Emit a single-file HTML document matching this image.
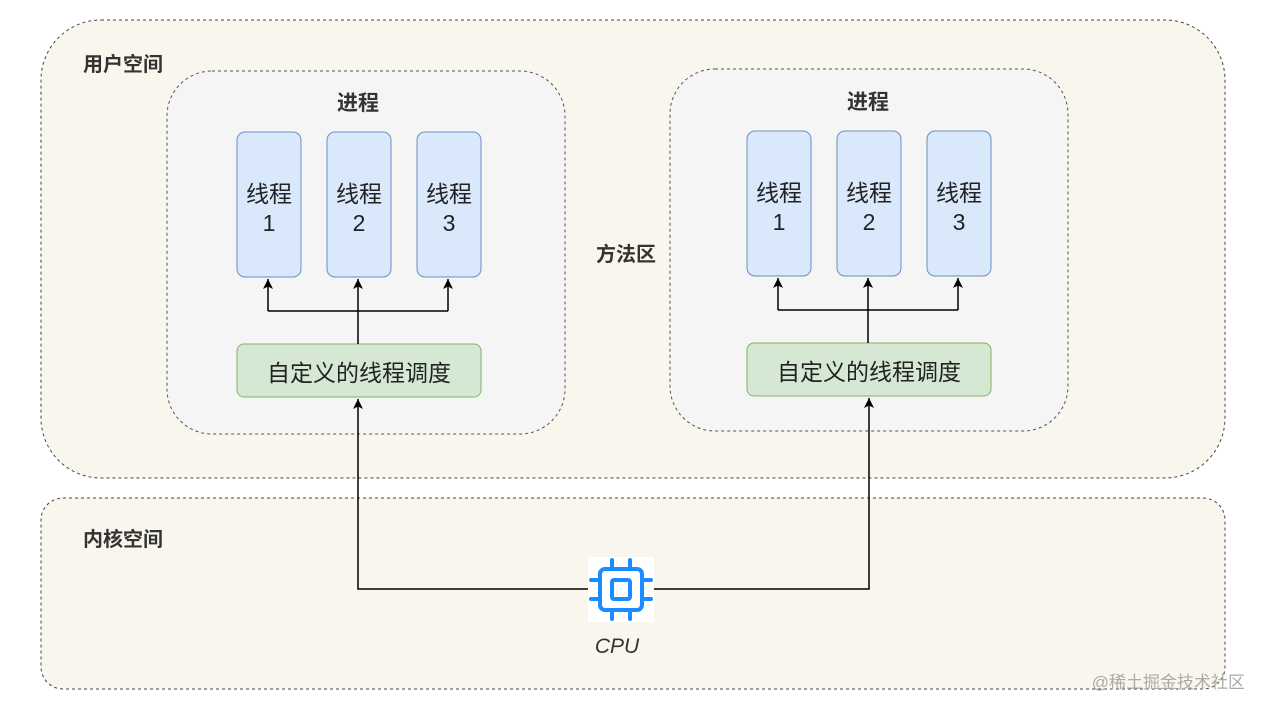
<!DOCTYPE html>
<html><head><meta charset="utf-8"><style>
html,body{margin:0;padding:0;background:#fff;}
svg text{font-family:"Liberation Sans","Noto Sans CJK SC",sans-serif;}
</style></head><body>
<svg width="1265" height="712" viewBox="0 0 1265 712" xmlns="http://www.w3.org/2000/svg">
<defs><marker id="a" markerWidth="12" markerHeight="12" refX="10" refY="5" orient="auto" markerUnits="userSpaceOnUse"><path d="M0,0 L10,5 L0,10 L2.5,5 Z" fill="#000"/></marker></defs>
<rect x="41" y="20" width="1184" height="458" rx="60" fill="#f9f7ed" stroke="#444" stroke-dasharray="3,3"/>
<rect x="41" y="498" width="1184" height="191" rx="22" fill="#f9f7ed" stroke="#444" stroke-dasharray="3,3"/>
<text x="83" y="71" font-size="20" font-weight="bold" fill="#333">用户空间</text>
<text x="83" y="546" font-size="20" font-weight="bold" fill="#333">内核空间</text>
<text x="596" y="261" font-size="20" font-weight="bold" fill="#333">方法区</text>
<rect x="167" y="71" width="398" height="363" rx="45" fill="#f5f5f5" stroke="#555" stroke-dasharray="3,3"/>
<rect x="670" y="69" width="398" height="362" rx="45" fill="#f5f5f5" stroke="#555" stroke-dasharray="3,3"/>
<g id="p">
<text x="358" y="110" font-size="21" font-weight="bold" fill="#333" text-anchor="middle">进程</text>
<rect x="237" y="132" width="64" height="145" rx="8" fill="#dae8fc" stroke="#6c8ebf"/>
<rect x="327" y="132" width="64" height="145" rx="8" fill="#dae8fc" stroke="#6c8ebf"/>
<rect x="417" y="132" width="64" height="145" rx="8" fill="#dae8fc" stroke="#6c8ebf"/>
<g font-size="23" fill="#222" text-anchor="middle">
<text x="269" y="202">线程</text><text x="269" y="231">1</text>
<text x="359" y="202">线程</text><text x="359" y="231">2</text>
<text x="449" y="202">线程</text><text x="449" y="231">3</text>
</g>
<rect x="237" y="344" width="244" height="53" rx="7" fill="#d5e8d4" stroke="#82b366"/>
<text x="359" y="381" font-size="23" fill="#222" text-anchor="middle">自定义的线程调度</text>
<path d="M268,311 H448" stroke="#000" stroke-width="1.5" fill="none"/>
<path d="M358,344 V279" stroke="#000" stroke-width="1.5" marker-end="url(#a)"/>
<path d="M268,311 V279" stroke="#000" stroke-width="1.5" marker-end="url(#a)"/>
<path d="M448,311 V279" stroke="#000" stroke-width="1.5" marker-end="url(#a)"/>
</g>
<use href="#p" transform="translate(510,-1)"/>
<path d="M588,589 H358 V399" stroke="#000" stroke-width="1.5" fill="none" marker-end="url(#a)"/>
<path d="M654,589 H869 V398" stroke="#000" stroke-width="1.5" fill="none" marker-end="url(#a)"/>
<rect x="588" y="557" width="66" height="65" fill="#fff"/>
<g stroke="#1a8cff" stroke-width="4" fill="none" stroke-linecap="round">
<rect x="600" y="569" width="42" height="41" rx="5"/>
<rect x="612" y="580" width="18" height="19" rx="2"/>
<path d="M612,560 V568 M630,560 V568 M612,611 V619 M630,611 V619 M591,580 H599 M591,599 H599 M643,580 H651 M643,599 H651"/>
</g>
<text x="617" y="653" font-size="21" fill="#333" text-anchor="middle" font-style="italic">CPU</text>
<text x="1245" y="688" font-size="17" fill="#aaa" text-anchor="end">@稀土掘金技术社区</text>
</svg>
</body></html>
